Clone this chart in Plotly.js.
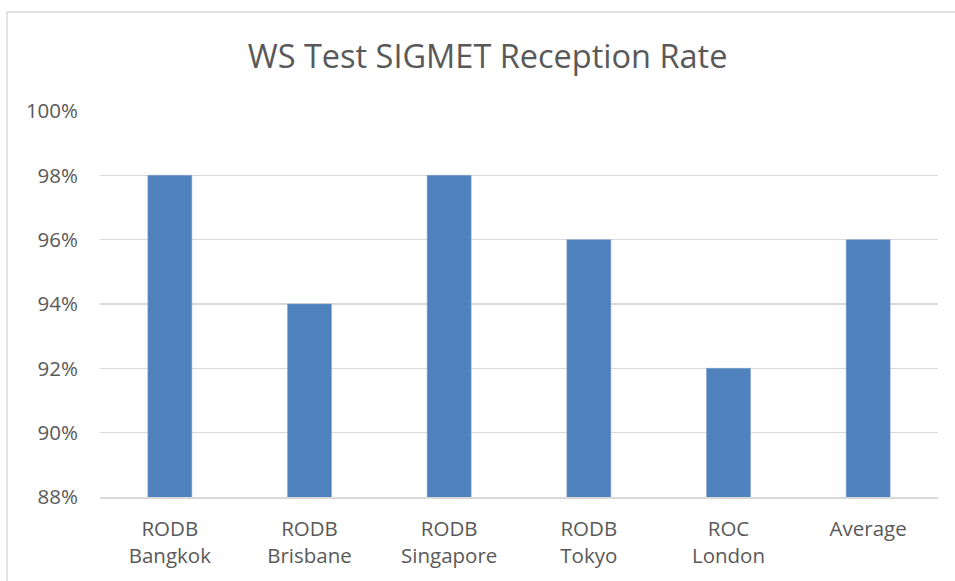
<!DOCTYPE html>
<html>
<head>
<meta charset="utf-8">
<script src="https://cdn.plot.ly/plotly-3.0.1.min.js"></script>
<style>html,body{margin:0;padding:0;background:#fff;}#chart{width:955px;height:581px;}</style>
</head>
<body>
<div id="chart"></div>
<script>
const categories = ["RODB<br>Bangkok", "RODB<br>Brisbane", "RODB<br>Singapore", "RODB<br>Tokyo", "ROC<br>London", "Average"];
const receptionRate = [98, 94, 98, 96, 92, 96];
const yTicks = [88, 90, 92, 94, 96, 98, 100];
const yTickLabels = ["88%", "90%", "92%", "94%", "96%", "98%", "100%"];
const chartTitle = "WS Test SIGMET Reception Rate";

const font = "Open Sans, Noto Sans, Liberation Sans, sans-serif";
const trace = {
  type: "bar",
  x: categories,
  y: receptionRate,
  marker: {color: "#4F81BD", line: {color: "#7FA3D3", width: 0.5}},
  hoverinfo: "x+y"
};
const layout = {
  width: 955, height: 581,
  margin: {l: 100, r: 17, t: 111, b: 84},
  paper_bgcolor: "#ffffff", plot_bgcolor: "#ffffff",
  bargap: 0.685,
  showlegend: false,
  title: {text: chartTitle, font: {family: font, size: 32.5, color: "#595959"},
          xref: "container", x: 0.5105, xanchor: "center", yref: "container", y: 0.902, yanchor: "middle"},
  xaxis: {tickfont: {family: font, size: 20.5, color: "#595959"}, showgrid: false, zeroline: false,
          showline: true, linecolor: "#D9D9D9", linewidth: 1.5, ticks: "", ticklabelstandoff: 13},
  yaxis: {range: [88, 100], tickvals: yTicks, ticktext: yTickLabels,
          tickfont: {family: font, size: 20.5, color: "#595959"}, showgrid: true, gridcolor: "#D9D9D9", gridwidth: 1.5,
          zeroline: false, showline: false, ticks: "", ticklabelstandoff: 21},
  shapes: [{type: "rect", xref: "paper", yref: "paper", x0: -0.111, x1: 1.1, y0: -0.4, y1: 1.2565,
            line: {color: "#D9D9D9", width: 1.5}, fillcolor: "rgba(0,0,0,0)", layer: "below"}]
};
Plotly.newPlot("chart", [trace], layout, {displayModeBar: false, staticPlot: true});
</script>
</body>
</html>
